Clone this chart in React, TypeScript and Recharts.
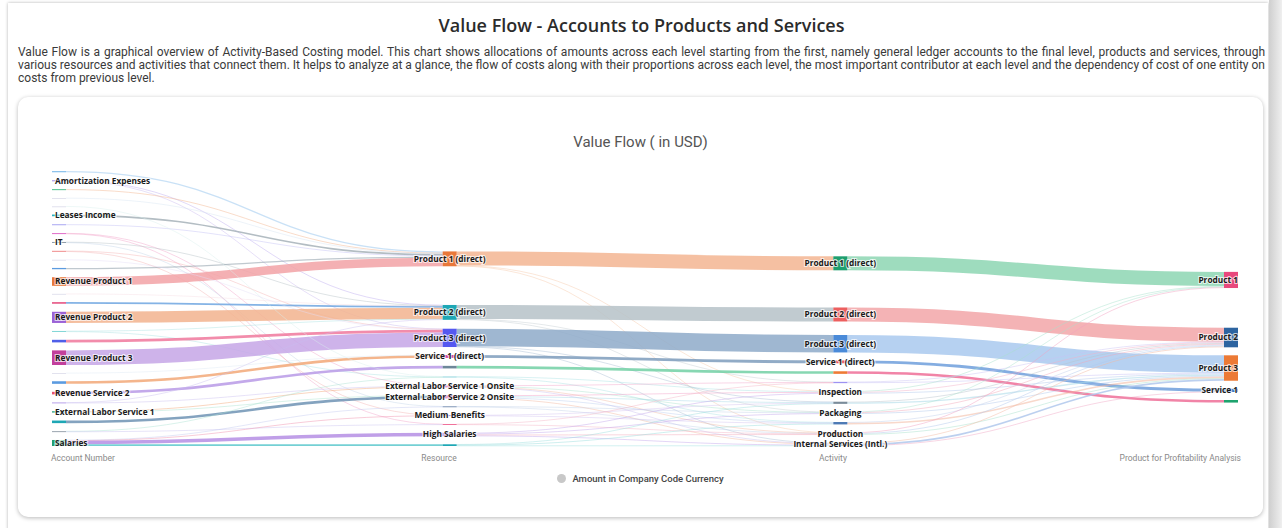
import React from 'react';
import { Sankey } from 'recharts';

// four levels of the value flow, top to bottom as drawn
const accounts = [
  'Office Supplies',
  'Amortization Expenses',
  'Travel Expenses',
  'Postage',
  'Telephone',
  'Leases Income',
  'Rent Expenses',
  'Utilities',
  'IT',
  'Maintenance',
  'Software Licenses',
  'Depreciation',
  'Revenue Product 1',
  'Sales Discounts',
  'Other Revenue',
  'Revenue Product 2',
  'Insurance',
  'Interest Income',
  'Revenue Product 3',
  'Freight',
  'Revenue Service 1',
  'Revenue Service 2',
  'Consulting Fees',
  'External Labor Service 1',
  'External Labor Service 2',
  'Bonuses',
  'Salaries',
];
const resources = [
  'Product 1 (direct)',
  'Product 2 (direct)',
  'Product 3 (direct)',
  'Service 1 (direct)',
  'Service 2 (direct)',
  'Low Benefits',
  'External Labor Service 1 Onsite',
  'External Labor Service 2 Onsite',
  'Facilities',
  'Medium Benefits',
  'Low Salaries',
  'High Salaries',
  'Medium Salaries',
];
const activities = [
  'Product 1 (direct)',
  'Product 2 (direct)',
  'Product 3 (direct)',
  'Service 1 (direct)',
  'Service 2 (direct)',
  'Quality Control',
  'Inspection',
  'Assembly',
  'Packaging',
  'Shipping',
  'Production',
  'Internal Services (Intl.)',
];
const products = ['Product 1', 'Product 2', 'Product 3', 'Service 1', 'Service 2'];

// names whose label the chart hides
const hiddenLabels = new Set([
  'Office Supplies', 'Travel Expenses', 'Postage', 'Telephone', 'Rent Expenses', 'Utilities',
  'Maintenance', 'Software Licenses', 'Depreciation', 'Sales Discounts', 'Other Revenue',
  'Insurance', 'Interest Income', 'Freight', 'Revenue Service 1', 'Consulting Fees',
  'External Labor Service 2', 'Bonuses', 'Service 2 (direct)', 'Low Benefits', 'Facilities',
  'Low Salaries', 'Medium Salaries', 'Quality Control', 'Assembly', 'Shipping', 'Service 2',
]);

const levelTitles = ['Account Number', 'Resource', 'Activity', 'Product for Profitability Analysis'];

// amounts (thousand USD) flowing between levels
const accountToResource: [string, string, number][] = [
  ['Office Supplies', 'Product 1 (direct)', 1.5],
  ['Amortization Expenses', 'Product 2 (direct)', 0.5],
  ['Amortization Expenses', 'Product 3 (direct)', 0.5],
  ['Travel Expenses', 'Product 1 (direct)', 1],
  ['Leases Income', 'Product 1 (direct)', 2],
  ['Rent Expenses', 'Product 1 (direct)', 1],
  ['Utilities', 'External Labor Service 1 Onsite', 0.5],
  ['Utilities', 'Low Salaries', 0.5],
  ['IT', 'Product 2 (direct)', 0.5],
  ['IT', 'Facilities', 0.5],
  ['Maintenance', 'Product 3 (direct)', 0.5],
  ['Maintenance', 'Medium Benefits', 0.5],
  ['Depreciation', 'Product 1 (direct)', 1.5],
  ['Revenue Product 1', 'Product 1 (direct)', 10],
  ['Other Revenue', 'Product 2 (direct)', 2],
  ['Revenue Product 2', 'Product 2 (direct)', 13],
  ['Insurance', 'Low Benefits', 0.5],
  ['Insurance', 'Product 2 (direct)', 0.5],
  ['Interest Income', 'Product 3 (direct)', 3],
  ['Revenue Product 3', 'Product 3 (direct)', 17],
  ['Revenue Service 1', 'Service 1 (direct)', 3],
  ['Revenue Service 2', 'Service 2 (direct)', 3],
  ['Consulting Fees', 'Product 2 (direct)', 0.5],
  ['Consulting Fees', 'External Labor Service 1 Onsite', 0.5],
  ['External Labor Service 1', 'External Labor Service 1 Onsite', 1],
  ['External Labor Service 1', 'External Labor Service 2 Onsite', 0.5],
  ['External Labor Service 2', 'External Labor Service 2 Onsite', 3],
  ['Bonuses', 'Low Benefits', 0.5],
  ['Bonuses', 'Low Salaries', 0.5],
  ['Salaries', 'Facilities', 0.5],
  ['Salaries', 'Medium Benefits', 0.5],
  ['Salaries', 'High Salaries', 4],
  ['Salaries', 'Medium Salaries', 2],
  ['Postage', 'Product 1 (direct)', 0.3],
  ['Telephone', 'Low Benefits', 0.3],
  ['Software Licenses', 'Product 3 (direct)', 0.3],
  ['Sales Discounts', 'Product 2 (direct)', 0.3],
  ['Freight', 'Service 1 (direct)', 0.3],
];
const resourceToActivity: [string, string, number][] = [
  ['Product 1 (direct)', 'Product 1 (direct)', 16.3],
  ['Product 1 (direct)', 'Inspection', 0.5],
  ['Product 1 (direct)', 'Production', 0.5],
  ['Product 2 (direct)', 'Product 2 (direct)', 16.3],
  ['Product 2 (direct)', 'Quality Control', 0.5],
  ['Product 2 (direct)', 'Packaging', 0.5],
  ['Product 3 (direct)', 'Product 3 (direct)', 20.3],
  ['Product 3 (direct)', 'Assembly', 0.5],
  ['Product 3 (direct)', 'Internal Services (Intl.)', 0.5],
  ['Service 1 (direct)', 'Service 1 (direct)', 3.3],
  ['Service 2 (direct)', 'Service 2 (direct)', 3],
  ['Low Benefits', 'Inspection', 0.5],
  ['Low Benefits', 'Shipping', 0.8],
  ['External Labor Service 1 Onsite', 'Quality Control', 0.5],
  ['External Labor Service 1 Onsite', 'Packaging', 0.5],
  ['External Labor Service 1 Onsite', 'Production', 0.5],
  ['External Labor Service 1 Onsite', 'Internal Services (Intl.)', 0.5],
  ['External Labor Service 2 Onsite', 'Inspection', 1],
  ['External Labor Service 2 Onsite', 'Assembly', 1],
  ['External Labor Service 2 Onsite', 'Shipping', 0.5],
  ['External Labor Service 2 Onsite', 'Internal Services (Intl.)', 1],
  ['Facilities', 'Packaging', 0.5],
  ['Facilities', 'Production', 0.5],
  ['Medium Benefits', 'Assembly', 0.5],
  ['Medium Benefits', 'Shipping', 0.5],
  ['Low Salaries', 'Quality Control', 0.5],
  ['Low Salaries', 'Production', 0.5],
  ['High Salaries', 'Inspection', 1],
  ['High Salaries', 'Packaging', 1],
  ['High Salaries', 'Production', 1],
  ['High Salaries', 'Internal Services (Intl.)', 1],
  ['Medium Salaries', 'Assembly', 0.5],
  ['Medium Salaries', 'Shipping', 1],
  ['Medium Salaries', 'Internal Services (Intl.)', 0.5],
];
const activityToProduct: [string, string, number][] = [
  ['Product 1 (direct)', 'Product 1', 16.3],
  ['Product 2 (direct)', 'Product 2', 16.3],
  ['Product 3 (direct)', 'Product 3', 20.3],
  ['Service 1 (direct)', 'Service 1', 3.3],
  ['Service 2 (direct)', 'Service 2', 3],
  ['Quality Control', 'Product 2', 0.5],
  ['Quality Control', 'Product 3', 1],
  ['Inspection', 'Product 1', 1],
  ['Inspection', 'Product 2', 1],
  ['Inspection', 'Product 3', 1],
  ['Assembly', 'Product 2', 1],
  ['Assembly', 'Product 3', 1.5],
  ['Packaging', 'Product 1', 0.5],
  ['Packaging', 'Product 2', 1],
  ['Packaging', 'Product 3', 1],
  ['Shipping', 'Product 2', 1],
  ['Shipping', 'Product 3', 1.8],
  ['Production', 'Product 1', 1],
  ['Production', 'Product 2', 1],
  ['Production', 'Product 3', 1],
  ['Internal Services (Intl.)', 'Product 2', 1],
  ['Internal Services (Intl.)', 'Product 3', 2],
  ['Internal Services (Intl.)', 'Service 1', 0.5],
];

// colours
const faint = '#e2e2ee';
const accountColors = [
  '#8ec3ec', '#a58be8', '#4fc08d', faint, faint, '#2fb3c0', '#a9a6f2', '#e06bc8', '#8a9aa6',
  '#f08a8a', faint, '#5b9be0', '#e8783a', faint, '#e8608c', '#9b62d6', '#7fd6d6', '#4f5fe8',
  '#c23f9c', faint, '#5b9be0', '#e8506a', '#b7a0ea', '#27a27a', '#1ea7b5', '#9aa4ae', '#1f9e6e',
];
const resourceColors = [
  '#e8783a', '#1ea7b5', '#5558f0', '#d0439e', '#6d8799', '#9ad9e0', '#d0439e',
  '#d0439e', '#7d94b4', '#8c7fe0', '#f0709a', '#9c6ad8', '#1ea7b5',
];
const activityColors = [
  '#1e9e6e', '#ec5f5f', '#4a8ad8', '#e8505a', '#ee7a35', '#9d92f2',
  '#7a8c9a', '#7a8c9a', '#4d7ab5', '#4d7ab5', '#ee7a35', '#9aa4ae',
];
const productColors = ['#e8487c', '#2d64a0', '#ec7a35', '#3b78c4', '#1ea36e'];

const accountFlowColors = [
  '#9cc8ee', '#b9a8ee', '#c8b8f0', '#f3b48e', '#a6b2b8', '#c4c0f4', '#f2a0c8', '#f2a0c8',
  '#b4bec4', '#c0d4e8', '#f4b0b0', '#f4b0b0', '#8c9ca8', '#f2a2a6', '#6fa6e0', '#f2b38e',
  '#a8e0e0', '#a8e0e0', '#f0789c', '#c6a6e6', '#f2a878', '#b89ae6', '#c8bcf0', '#c8bcf0',
  '#f2a878', '#a8e0cc', '#6f93b4', '#a8e0d0', '#c8c0f0', '#c0c8f0', '#f08aa8', '#b58ee4',
  '#5cc8cc', '#d6e4f2', '#d8f0ec', '#e4dcf6', '#f6dce4', '#dce8f4',
];
const resourceFlowColors = [
  '#f3b592', '#f5c8a8', '#f5c8a8', '#b6c2c8', '#c4ccd0', '#c4ccd0', '#8eaac9', '#a8bcd4',
  '#a8bcd4', '#7e9cbc', '#72d0a4', '#a8e0e4', '#a8e0e4', '#f2a0c8', '#a8e0cc', '#f2b8a0',
  '#c8bcf0', '#f2a0c8', '#a8d8e8', '#b8ccf0', '#f2b8a0', '#c0d0e8', '#c0d0e8', '#d0c0f0',
  '#d0c0f0', '#f4b0c4', '#f4b0c4', '#c4a8ec', '#c4a8ec', '#f2a8b8', '#c4a8ec', '#98dcdc',
  '#98dcdc', '#98dcdc',
];
const activityFlowColors = [
  '#8dd6b3', '#f2a6a8', '#a9c9ee', '#6e9fdc', '#ee6e98', '#c8c0f4', '#c8c0f4', '#a8e0cc',
  '#f2b0c8', '#b0c8ec', '#b8c4cc', '#a8d8e8', '#a8e0cc', '#f2a8b8', '#b0c8ec', '#c0d0ec',
  '#f2b8a0', '#f2a0c0', '#b0c8ec', '#a8e0cc', '#f2b8a0', '#b0c8ec', '#f0a0c0',
];

const levels = [accounts, resources, activities, products];
const levelColors = [accountColors, resourceColors, activityColors, productColors];
const offsets = [0, accounts.length, accounts.length + resources.length, accounts.length + resources.length + activities.length];

const nodes = levels.flatMap((names, level) =>
  names.map((name, i) => ({ name, level, color: levelColors[level][i], showLabel: !hiddenLabels.has(name) }))
);

const toLinks = (flows: [string, string, number][], level: number, colors: string[]) =>
  flows.map(([from, to, value], i) => ({
    source: offsets[level] + levels[level].indexOf(from),
    target: offsets[level + 1] + levels[level + 1].indexOf(to),
    value,
    color: colors[i],
  }));

const links = [
  ...toLinks(accountToResource, 0, accountFlowColors),
  ...toLinks(resourceToActivity, 1, resourceFlowColors),
  ...toLinks(activityToProduct, 2, activityFlowColors),
];

const labelFont = "'Open Sans', sans-serif";

function FlowNode(props: any) {
  const { x, y, width, height, payload } = props;
  const cy = y + height / 2;
  let tx = x + width / 2;
  let anchor: 'start' | 'middle' | 'end' = 'middle';
  if (payload.level === 0) {
    tx = x + 3;
    anchor = 'start';
  } else if (payload.level === 3) {
    tx = x + width;
    anchor = 'end';
  }
  return (
    <g>
      <rect x={x} y={y} width={width} height={Math.max(height, 1)} fill={payload.color} />
      {payload.showLabel && (
        <text
          x={tx}
          y={cy}
          dy="0.35em"
          textAnchor={anchor}
          fontFamily={labelFont}
          fontSize={8.3}
          fontWeight={700}
          fill="#1a1a1a"
          stroke="#ffffff"
          strokeWidth={2.2}
          strokeOpacity={0.7}
          paintOrder="stroke"
        >
          {payload.name}
        </text>
      )}
    </g>
  );
}

function FlowLink(props: any) {
  const { sourceX, targetX, sourceY, targetY, sourceControlX, targetControlX, linkWidth, payload } = props;
  return (
    <path
      d={`M${sourceX},${sourceY}C${sourceControlX},${sourceY} ${targetControlX},${targetY} ${targetX},${targetY}`}
      fill="none"
      stroke={payload.color}
      strokeWidth={Math.max(linkWidth, 0.8)}
      strokeOpacity={payload.value >= 2 ? 0.85 : 0.55}
    />
  );
}

export default function App() {
  return (
    <div
      style={{
        position: 'fixed',
        left: 0,
        top: 0,
        width: 1282,
        height: 528,
        background: '#ffffff',
        overflow: 'hidden',
        fontFamily: 'Roboto, sans-serif',
      }}
    >
      <div
        style={{
          position: 'absolute',
          left: 8,
          top: 3,
          width: 1260,
          height: 560,
          background: '#ffffff',
          boxShadow: '0 0 3px rgba(0,0,0,0.3)',
        }}
      />
      <div
        style={{
          position: 'absolute',
          left: 1269,
          top: 0,
          width: 13,
          height: 528,
          background: 'linear-gradient(to right, #cfcfcf, #efefef)',
        }}
      />
      <div
        style={{
          position: 'absolute',
          left: 18,
          top: 12,
          width: 1247,
          textAlign: 'center',
          fontFamily: labelFont,
          fontSize: 18,
          fontWeight: 600,
          color: '#2b2b2b',
          lineHeight: '26px',
        }}
      >
        Value Flow - Accounts to Products and Services
      </div>
      <div
        style={{
          position: 'absolute',
          left: 18,
          top: 46,
          width: 1247,
          fontSize: 12,
          lineHeight: '13px',
          color: '#3a3a3a',
          textAlign: 'justify',
        }}
      >
        Value Flow is a graphical overview of Activity-Based Costing model. This chart shows allocations of amounts across
        each level starting from the first, namely general ledger accounts to the final level, products and services,
        through various resources and activities that connect them. It helps to analyze at a glance, the flow of costs
        along with their proportions across each level, the most important contributor at each level and the dependency
        of cost of one entity on costs from previous level.
      </div>
      <div
        style={{
          position: 'absolute',
          left: 18,
          top: 97,
          width: 1245,
          height: 420,
          background: '#ffffff',
          borderRadius: 10,
          boxShadow: '0 1px 4px rgba(0,0,0,0.28)',
        }}
      >
        <div
          style={{
            position: 'absolute',
            left: 0,
            top: 35,
            width: 1245,
            textAlign: 'center',
            fontSize: 15,
            lineHeight: '20px',
            color: '#555555',
          }}
        >
          Value Flow ( in USD)
        </div>
        <div style={{ position: 'absolute', left: 0, top: 0 }}>
          <Sankey
            width={1245}
            height={360}
            data={{ nodes, links }}
            margin={{ left: 34, right: 25, top: 74, bottom: 11 }}
            nodeWidth={14}
            nodePadding={8}
            iterations={32}
            sort={false}
            linkCurvature={0.5}
            node={(p: any) => <FlowNode {...p} />}
            link={(p: any) => <FlowLink {...p} />}
          />
        </div>
        {levelTitles.map((t, i) => (
          <div
            key={t}
            style={{
              position: 'absolute',
              top: 355,
              left: i === 0 ? 33 : i === 3 ? 1045 : i === 1 ? 332 : 726,
              width: 178,
              textAlign: i === 0 ? 'left' : i === 3 ? 'right' : 'center',
              fontSize: 8.5,
              lineHeight: '12px',
              color: '#8a8a8a',
            }}
          >
            {t}
          </div>
        ))}
        <div
          style={{
            position: 'absolute',
            top: 376,
            left: 0,
            width: 1245,
            display: 'flex',
            justifyContent: 'center',
            alignItems: 'center',
            fontSize: 9.5,
            fontWeight: 500,
            color: '#444444',
          }}
        >
          <span
            style={{
              display: 'inline-block',
              width: 9,
              height: 9,
              borderRadius: '50%',
              background: '#c8c8c8',
              marginRight: 6,
            }}
          />
          Amount in Company Code Currency
        </div>
      </div>
    </div>
  );
}
